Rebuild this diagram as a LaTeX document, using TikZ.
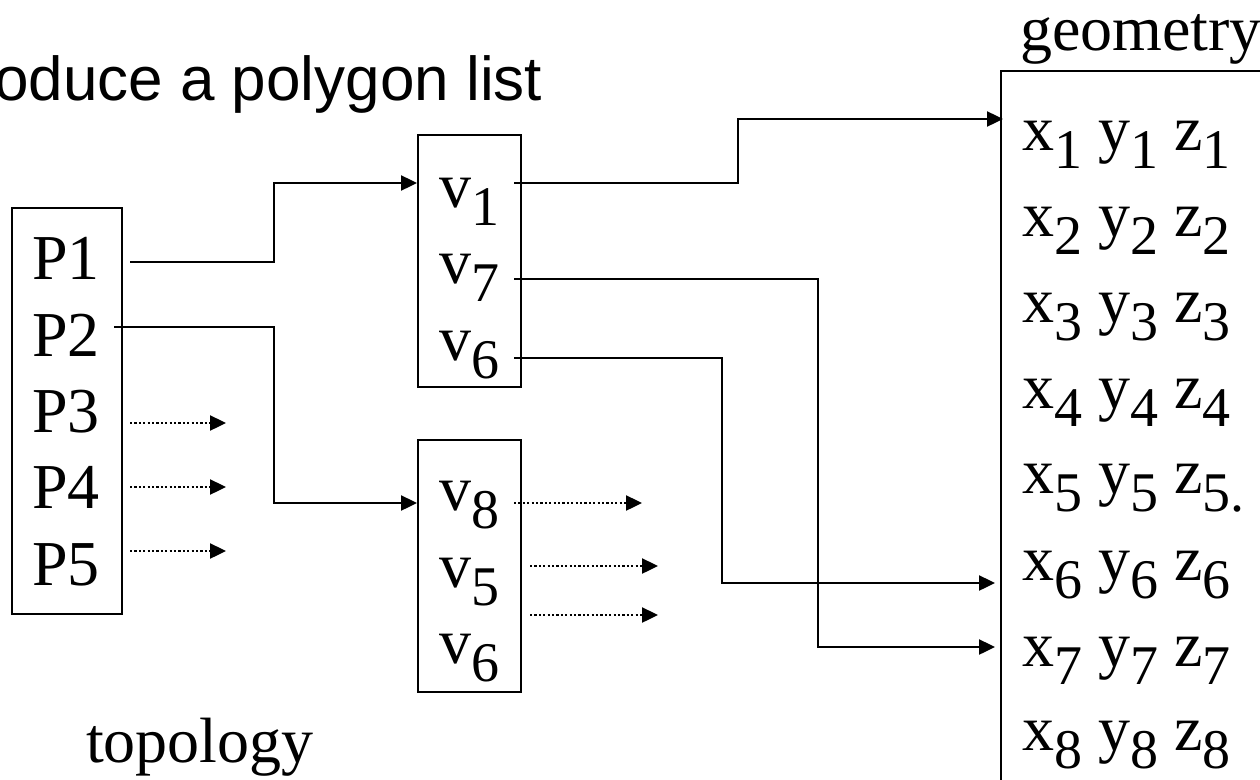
\documentclass[tikz,border=0pt]{standalone}
\usepackage{fontspec}
\setmainfont{Liberation Serif}
\newfontfamily\arialf{Liberation Sans}
\usetikzlibrary{arrows.meta}
\newcommand\tsz{\fontsize{64}{64}\selectfont}
\newcommand\sbs[1]{\raisebox{-18pt}{\fontsize{56}{56}\selectfont #1}}
\begin{document}
\begin{tikzpicture}[x=1pt,y=-1pt,
  box/.style={draw, line width=2.4pt, inner sep=0pt, anchor=north west},
  lbl/.style={inner sep=0pt, anchor=base west, font=\tsz},
  conn/.style={line width=2.4pt, -{Triangle[length=16pt,width=15pt]}},
  dots/.style={conn, dash pattern=on 2.2pt off 2.2pt}]
\useasboundingbox (0,0) rectangle (1260,779);

% title
\node[lbl, font=\arialf\fontsize{62}{62}\selectfont] (title) at (-6,100) {oduce a polygon list};

% topology
\node[box, minimum width=110pt, minimum height=406pt] (Pbox) at (11,207) {};
\node[lbl] (P1) at (32,279) {P1};
\node[lbl] (P2) at (32,356) {P2};
\node[lbl] (P3) at (32,432) {P3};
\node[lbl] (P4) at (32,508) {P4};
\node[lbl] (P5) at (32,585) {P5};
\node[lbl] (topo) at (86,762) {topology};

% vertex index lists
\node[box, minimum width=103pt, minimum height=252pt] (Vbox1) at (417,134) {};
\node[lbl] (va1) at (439,207) {v\sbs{1}};
\node[lbl] (va7) at (439,283) {v\sbs{7}};
\node[lbl] (va6) at (439,360) {v\sbs{6}};
\node[box, minimum width=103pt, minimum height=252pt] (Vbox2) at (417,439) {};
\node[lbl] (vb8) at (439,510) {v\sbs{8}};
\node[lbl] (vb5) at (439,587) {v\sbs{5}};
\node[lbl] (vb6) at (439,663) {v\sbs{6}};

% geometry
\node[lbl] (geol) at (1020,50) {geometry};
\node[box, minimum width=400pt, minimum height=800pt] (Gbox) at (1000,70) {};
\node[lbl] (g1) at (1022,150) {x\sbs{1} y\sbs{1} z\sbs{1}};
\node[lbl] (g2) at (1022,236) {x\sbs{2} y\sbs{2} z\sbs{2}};
\node[lbl] (g3) at (1022,322) {x\sbs{3} y\sbs{3} z\sbs{3}};
\node[lbl] (g4) at (1022,408) {x\sbs{4} y\sbs{4} z\sbs{4}};
\node[lbl] (g5) at (1022,493) {x\sbs{5} y\sbs{5} z\sbs{5.}};
\node[lbl] (g6) at (1022,580) {x\sbs{6} y\sbs{6} z\sbs{6}};
\node[lbl] (g7) at (1022,666) {x\sbs{7} y\sbs{7} z\sbs{7}};
\node[lbl] (g8) at (1022,750) {x\sbs{8} y\sbs{8} z\sbs{8}};

% ports
\coordinate (p1s) at (130,262);
\coordinate (p1k) at (274,183);
\coordinate (v1in) at (417,183);
\coordinate (p2s) at (114,327);
\coordinate (p2k) at (274,503);
\coordinate (v8in) at (417,503);
\coordinate (v1s) at (514,183);
\coordinate (k1) at (738,119);
\coordinate (x1in) at (1003,119);
\coordinate (v7s) at (514,279);
\coordinate (k7) at (818,647);
\coordinate (x7in) at (995,647);
\coordinate (v6s) at (514,358);
\coordinate (k6) at (722,583);
\coordinate (x6in) at (995,583);

\coordinate (d3s) at (130,423); \coordinate (d3e) at (226,423);
\coordinate (d4s) at (130,487); \coordinate (d4e) at (226,487);
\coordinate (d5s) at (130,551); \coordinate (d5e) at (226,551);
\coordinate (e8s) at (514,503); \coordinate (e8e) at (642,503);
\coordinate (e5s) at (530,566); \coordinate (e5e) at (658,566);
\coordinate (e6s) at (530,615); \coordinate (e6e) at (658,615);

% connectors
\draw[conn] (p1s) -| (p1k) -- (v1in);
\draw[conn] (p2s) -| (p2k) -- (v8in);
\draw[conn] (v1s) -| (k1) -- (x1in);
\draw[conn] (v7s) -| (k7) -- (x7in);
\draw[conn] (v6s) -| (k6) -- (x6in);

\draw[dots] (d3s) -- (d3e);
\draw[dots] (d4s) -- (d4e);
\draw[dots] (d5s) -- (d5e);
\draw[dots] (e8s) -- (e8e);
\draw[dots] (e5s) -- (e5e);
\draw[dots] (e6s) -- (e6e);
\end{tikzpicture}
\end{document}
